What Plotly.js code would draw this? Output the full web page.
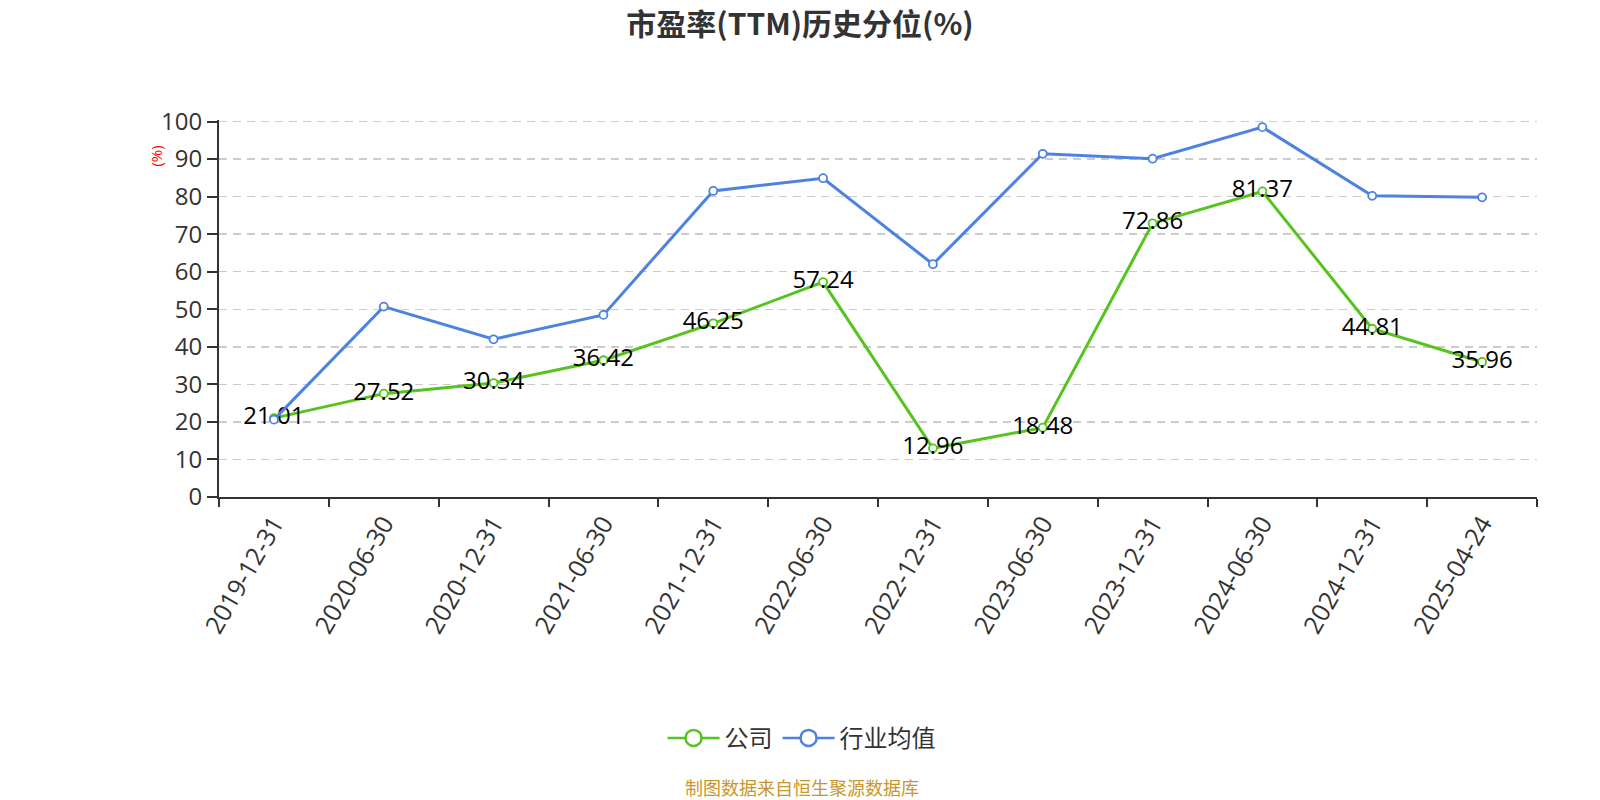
<!DOCTYPE html>
<html>
<head>
<meta charset="utf-8">
<script src="https://cdn.plot.ly/plotly-3.0.1.min.js"></script>
<style>
html,body{margin:0;padding:0;background:#fff;}
#chart{width:1600px;height:800px;}
</style>
</head>
<body>
<div id="chart"></div>
<script>
const categories = ["2019-12-31","2020-06-30","2020-12-31","2021-06-30","2021-12-31","2022-06-30","2022-12-31","2023-06-30","2023-12-31","2024-06-30","2024-12-31","2025-04-24"];
const companyValues = [21.01, 27.52, 30.34, 36.42, 46.25, 57.24, 12.96, 18.48, 72.86, 81.37, 44.81, 35.96];
const industryValues = [20.6, 50.7, 42.0, 48.5, 81.5, 84.9, 62.0, 91.4, 90.1, 98.5, 80.2, 79.8];
const yTickValues = [0,10,20,30,40,50,60,70,80,90,100];
const seriesNames = ['公司', '行业均值'];

const FONT = '"Open Sans", "Noto Sans CJK SC", sans-serif';
const CJK = '"Noto Sans CJK SC", "Open Sans", sans-serif';
const GREEN = '#56c41e';
const BLUE = '#4e82e0';
const COLORS = [GREEN, BLUE];

const traces = [
  {
    name: seriesNames[0],
    x: categories,
    y: companyValues,
    type: 'scatter',
    mode: 'lines+markers+text',
    text: companyValues.map(v => v.toFixed(2)),
    textposition: 'middle center',
    textfont: {family: FONT, size: 24, color: '#000'},
    line: {color: GREEN, width: 3},
    marker: {symbol: 'circle', size: 8, color: '#fff', line: {color: GREEN, width: 1.8}},
    cliponaxis: false,
    showlegend: false
  },
  {
    name: seriesNames[1],
    x: categories,
    y: industryValues,
    type: 'scatter',
    mode: 'lines+markers',
    line: {color: BLUE, width: 3},
    marker: {symbol: 'circle', size: 8, color: '#fff', line: {color: BLUE, width: 1.8}},
    cliponaxis: false,
    showlegend: false
  }
];
// legend entries (no data, only for the legend symbols)
seriesNames.forEach((n, i) => {
  traces.push({
    name: n,
    x: [null],
    y: [null],
    type: 'scatter',
    mode: 'lines+markers',
    line: {color: COLORS[i], width: 2.5},
    marker: {symbol: 'circle', size: 16, color: '#fff', line: {color: COLORS[i], width: 2.5}},
    showlegend: true,
    hoverinfo: 'skip'
  });
});

const layout = {
  width: 1600,
  height: 800,
  paper_bgcolor: '#fff',
  plot_bgcolor: '#fff',
  margin: {l: 219, r: 63, t: 120, b: 303, autoexpand: false},
  font: {family: FONT, color: '#333'},
  title: {
    text: '<b>市盈率(TTM)历史分位(%)</b>',
    font: {family: CJK, size: 30, color: '#333'},
    x: 0.5, xanchor: 'center',
    y: 0.969, yanchor: 'middle', yref: 'container'
  },
  showlegend: true,
  legend: {
    orientation: 'h',
    x: 0.442, xanchor: 'center',
    y: -0.64, yanchor: 'middle',
    font: {family: CJK, size: 24, color: '#333'},
    itemwidth: 52,
    traceorder: 'normal'
  },
  xaxis: {
    type: 'category',
    range: [-0.5, 11.5],
    tickson: 'boundaries',
    ticks: 'outside',
    ticklen: 8,
    tickwidth: 2,
    tickcolor: '#333',
    showline: true,
    linecolor: '#333',
    linewidth: 2,
    showgrid: false,
    zeroline: false,
    tickangle: -60,
    tickfont: {family: FONT, size: 25, color: '#333'},
    fixedrange: true
  },
  yaxis: {
    range: [0, 100.4],
    tickvals: yTickValues,
    ticktext: yTickValues.map(String),
    ticks: 'outside',
    ticklen: 10,
    tickwidth: 2,
    tickcolor: '#333',
    showline: true,
    linecolor: '#333',
    linewidth: 2,
    showgrid: true,
    gridcolor: '#cccccc',
    griddash: '8px,6px',
    gridwidth: 1.5,
    zeroline: false,
    tickfont: {family: FONT, size: 24, color: '#333'},
    fixedrange: true
  },
  annotations: [
    {
      text: '(%)',
      xref: 'paper', yref: 'paper',
      x: -0.048, y: 0.905,
      xanchor: 'center', yanchor: 'middle',
      textangle: -90,
      showarrow: false,
      font: {family: FONT, size: 15, color: '#ff0000'}
    },
    {
      text: '制图数据来自恒生聚源数据库',
      xref: 'paper', yref: 'paper',
      x: 0.442, y: -0.77,
      xanchor: 'center', yanchor: 'middle',
      borderpad: 0,
      showarrow: false,
      font: {family: CJK, size: 18, color: '#c8962a'}
    }
  ]
};

Plotly.newPlot('chart', traces, layout, {displayModeBar: false, staticPlot: true});
</script>
</body>
</html>
